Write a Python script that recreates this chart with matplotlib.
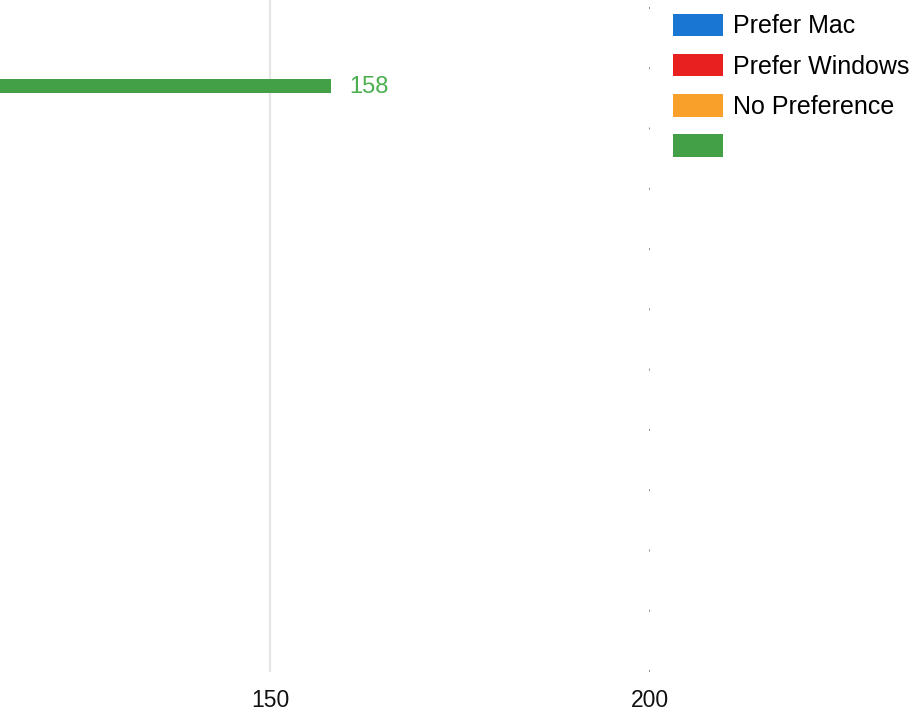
"""
Horizontal bar chart of OS preference counts, zoomed in on the upper range.
"""

# Imports
import matplotlib.pyplot as plt
from matplotlib.patches import Patch

# Data
categories = ["Total"]
totalValues = [158]
seriesNames = ["Prefer Mac", "Prefer Windows", "No Preference", ""]
seriesColors = ["#1976d2", "#e8201f", "#f9a02a", "#43a047"]
xTicks = [150, 200]

plt.rcParams['font.family'] = ['Liberation Sans', 'DejaVu Sans']

# ----------------------------------------------------------------------------------------------------------------------

fig = plt.figure(figsize=(9.13, 7.21), dpi=100)
ax = fig.add_axes([0.0, 0.068, 0.712, 0.932])

# Load data
bars = ax.barh(range(len(categories)), totalValues, height=0.8, color=seriesColors[3], zorder=3)
for bar, value in zip(bars, totalValues):
    ax.text(bar.get_width() + 2.4, bar.get_y() + bar.get_height() / 2 + 0.1, str(value),
            va='center', ha='left', fontsize=17, color='#4caf50', zorder=4)

# Set layout
ax.set_xlim(114.4, 200)
ax.set_ylim(33.5, -4.9)
ax.set_xticks(xTicks)
ax.set_xticklabels([str(t) for t in xTicks], fontsize=16.5, color='#111111')
ax.set_yticks([])
ax.tick_params(axis='x', length=0, pad=12)
for spine in ax.spines.values():
    spine.set_visible(False)

ax.grid(True, axis='x', zorder=0)
gridLines = ax.get_xgridlines()
gridLines[0].set(color='#e6e6e6', linewidth=1.6, linestyle='-')
gridLines[1].set(color='#8a8a8a', linewidth=1.4, linestyle=(0, (1, 30)))

# Legend
handles = [Patch(facecolor=c, edgecolor='none') for c in seriesColors]
fig.legend(handles, seriesNames, loc='upper left', bbox_to_anchor=(0.737, 0.981), frameon=False,
           fontsize=18, handlelength=2.0, handleheight=1.0, handletextpad=0.4, labelspacing=0.62,
           borderpad=0, borderaxespad=0)

fig.savefig("out.png", dpi=100)
